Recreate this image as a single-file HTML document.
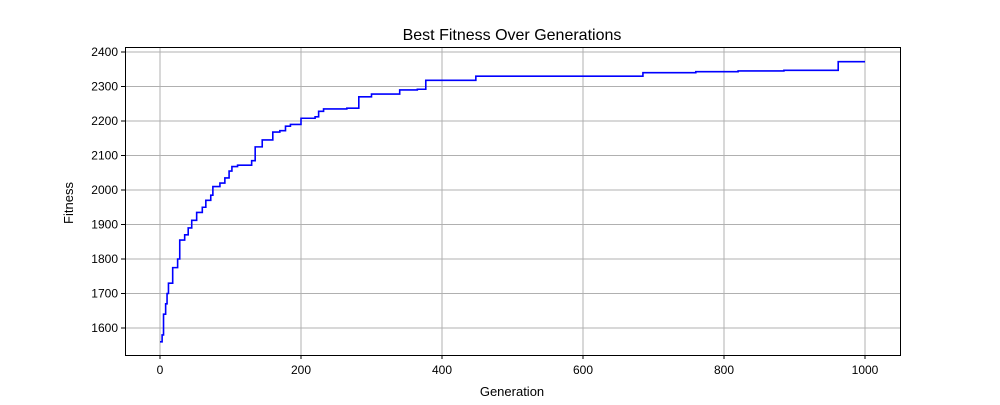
<!DOCTYPE html>
<html><head><meta charset="utf-8"><style>body{margin:0;background:#fff}svg text{font-family:"Liberation Sans","DejaVu Sans",sans-serif}</style></head>
<body>
<svg id="chart" width="1000" height="400">
<rect x="0" y="0" width="1000" height="400" fill="#fff"/>
<g id="grid"></g><g id="ticks"></g>
<path id="line" fill="none" stroke="#0000ff" stroke-width="1.6"/>
<rect x="125.5" y="47.5" width="775" height="308" fill="none" stroke="#000" stroke-width="1"/>
<text x="512" y="40" text-anchor="middle" font-size="16">Best Fitness Over Generations</text>
<text x="512" y="396" text-anchor="middle" font-size="13">Generation</text>
<text x="73" y="203" text-anchor="middle" font-size="13" transform="rotate(-90 73 203)">Fitness</text>
</svg>
<script>
const generations=[0,3,5,8,10,12,18,25,28,35,40,45,52,60,65,72,75,85,92,98,102,110,130,135,145,160,170,178,185,200,220,225,232,265,282,300,340,365,377,448,685,760,820,885,962,1000];
const fitness=[1560,1580,1640,1670,1700,1730,1775,1800,1855,1870,1890,1912,1935,1950,1970,1985,2010,2020,2035,2055,2068,2072,2085,2125,2145,2168,2172,2185,2190,2208,2212,2228,2235,2237,2270,2278,2290,2292,2318,2330,2340,2343,2345,2347,2372,2372];
const xTicks=[0,200,400,600,800,1000];
const yTicks=[1600,1700,1800,1900,2000,2100,2200,2300,2400];
const X=v=>160+v*0.705, Y=v=>328-(v-1600)*0.345;
const ns="http://www.w3.org/2000/svg";
const grid=document.getElementById('grid'),ticks=document.getElementById('ticks');
function mk(t,a,p){const e=document.createElementNS(ns,t);for(const k in a)e.setAttribute(k,a[k]);p.appendChild(e);return e;}
xTicks.forEach(v=>{const x=X(v);
 const g=mk('line',{x1:x,x2:x,y1:47,y2:355,stroke:'#b0b0b0','stroke-width':1},grid);
 
 
 mk('line',{x1:x,x2:x,y1:355,y2:359,stroke:'#000'},ticks);
 const t=mk('text',{x:x,y:374,'text-anchor':'middle','font-size':12},ticks);t.textContent=v;
 
 });
yTicks.forEach(v=>{const y=Y(v);
 const g=mk('line',{x1:125,x2:900,y1:y,y2:y,stroke:'#b0b0b0','stroke-width':1},grid);
 
 
 mk('line',{x1:121,x2:125,y1:y,y2:y,stroke:'#000'},ticks);
 const t=mk('text',{x:118,y:y+4,'text-anchor':'end','font-size':12},ticks);t.textContent=v;
 
 });
let d='M'+X(generations[0])+','+Y(fitness[0]);
for(let i=1;i<generations.length;i++){d+=' H'+X(generations[i])+' V'+Y(fitness[i]);}
document.getElementById('line').setAttribute('d',d);
</script>
</body></html>
